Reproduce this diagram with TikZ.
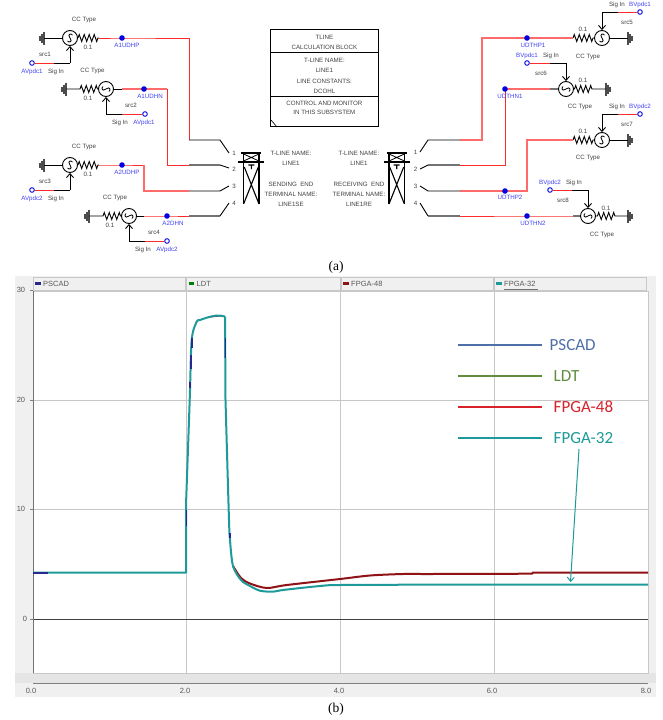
\documentclass[tikz,border=0pt]{standalone}
\usepackage{fontspec}
\setmainfont{Liberation Sans}
\newfontfamily\legendfont{Carlito}
\newfontfamily\capfont{Liberation Serif}
\usetikzlibrary{arrows.meta,decorations.pathmorphing}
\definecolor{wirered}{HTML}{FF2A2A}
\definecolor{palered}{HTML}{FF6A6A}
\definecolor{labelblue}{HTML}{4040F0}
\definecolor{dotblue}{HTML}{0000E0}
\definecolor{textgray}{HTML}{404040}
\definecolor{bandgray}{HTML}{F0F0F0}
\definecolor{gridgray}{HTML}{C8C8C8}
\definecolor{curveteal}{HTML}{1F9A9A}
\definecolor{curvered}{HTML}{8E1216}
\definecolor{curveblue}{HTML}{28288E}
\tikzset{
    wire/.style={black, line width=0.9pt},
    redwire/.style={wirered, line width=1pt},
    palewire/.style={palered, line width=1.4pt},
    graywire/.style={black!55, line width=1.2pt},
    zz/.style n args={2}{wire, decorate, decoration={zigzag, segment length=5pt, amplitude=3.5pt, pre length=#1, post length=#2}},
    ccsrc/.style={circle, draw=black, line width=0.9pt, fill=white, inner sep=0pt, minimum size=15pt},
    junction/.style={circle, fill=dotblue, inner sep=0pt, minimum size=5.6pt},
    term/.style={circle, draw=dotblue, line width=0.9pt, fill=white, inner sep=0pt, minimum size=4.6pt},
    lbl/.style={font=\fontsize{6.2}{7}\selectfont, text=textgray, inner sep=0pt},
    bluelbl/.style={font=\fontsize{6.2}{7}\selectfont, text=labelblue, inner sep=0pt},
    chartlbl/.style={font=\fontsize{7.5}{8}\selectfont, text=black!65, inner sep=0pt},
    legendlbl/.style={font=\legendfont\fontsize{17}{19}\selectfont, anchor=west, inner sep=0pt},
    caplbl/.style={font=\capfont\fontsize{13.5}{15}\selectfont, inner sep=0pt},
    sine/.pic={\draw[black, line width=0.8pt] (2.5,-3) .. controls (1,-5) and (-3,-4) .. (0,0) .. controls (3,4) and (-1,5) .. (-2.5,3);},
    gnd/.pic={\draw[black!70, line width=1.1pt] (0,-6.5) -- (0,6.5) (-2,-4.5) -- (-2,4.5) (-4,-2.5) -- (-4,2.5);},
    tower/.pic={
        \draw[black, line width=1.4pt] (-10,0) -- (10,0) (-13,9) -- (13,9) (-7.7,0) -- (-7.7,51) (7.7,0) -- (7.7,51);
        \draw[black, line width=0.8pt] (-7.7,1) -- (7.7,8) (-7.7,8) -- (7.7,1);
        \draw[black, line width=1.1pt] (-3,12) -- (3,12) (0,12) -- (0,16) (-7,14) -- (7.7,51) (7,14) -- (-7.7,51);
    }
}
\begin{document}
\begin{tikzpicture}[x=1pt,y=-1pt]
    \useasboundingbox (0,0) rectangle (663,720);

    % Chart background
    \fill[bandgray] (15,276) rectangle (656,697);
    \fill[white] (33,292) rectangle (648,673);
    \fill[black!10] (15,673) rectangle (656,683);
    \draw[black!50, line width=1pt] (33,683.5) -- (648,683.5);
    \fill[white] (0,697) rectangle (663,720);

    % Legend tabs
    \foreach \n/\lft/\rgt/\col/\name in {1/33/185.5/curveblue/PSCAD, 2/186.5/340/green!50!black/LDT, 3/341/493/curvered/FPGA-48, 4/494/646.5/curveteal/FPGA-32}{
        \draw[gridgray, fill=black!6] (\lft,277) rectangle (\rgt,290);
        \fill[\col] (\lft+2,282) rectangle (\lft+7.5,285);
        \node[chartlbl, anchor=west] (tab\n) at (\lft+10,283.5) {\name};
    }
    \draw[black!55, line width=0.8pt] (504,289.5) -- (537.5,289.5);

    % Grid
    \foreach \x in {186,340.5,494}{
        \draw[gridgray, line width=0.9pt] (\x,291) -- (\x,673);
    }
    \foreach \y in {400,509}{
        \draw[black!22, line width=0.7pt] (33,\y) -- (648,\y);
    }
    \draw[gridgray, line width=0.9pt] (33,291.5) -- (648,291.5) -- (648,673) -- (33,673);
    \draw[black!75, line width=0.7pt] (33,619) -- (648,619);
    \draw[black!55, line width=1pt] (33,291) -- (33,673);

    % Axis numbers
    \foreach \n/\x/\y in {30/21/290, 20/21/400, 10/21/509, 0/25/619}{
        \node[chartlbl] (ylab\n) at (\x,\y) {\n};
        \draw[black!50] (30,\y) -- (33,\y);
    }
    \foreach \n/\x/\lab in {0/31/0.0, 2/185/2.0, 4/339/4.0, 6/492/6.0, 8/646/8.0}{
        \node[chartlbl] (xlab\n) at (\x,691) {\lab};
    }

    % Curves
    \draw[curvered, line width=2pt] plot[smooth, tension=0.5] coordinates {(233,566) (241,578) (250,583.5) (266.7,588) (286.7,585) (340,579) (370,575.5) (403,574) (430,574) (532,573.7)} -- (533,572.5) -- (648,572.5);
    \draw[curvered, line width=1.4pt] (208,317) -- (222,315.6);
    \draw[curveteal, line width=2pt, line join=round] (33,572.5) -- (186,572.5) -- (186,505)
        plot[smooth, tension=0.5] coordinates {(186,505) (189.7,400) (191.7,340) (196.7,321.7) (200,320) (206.7,317.7) (216.7,315.5) (225,316.5)};
    \draw[curveteal, line width=2pt, line join=round] (225,316.5) -- (225.5,400)
        plot[smooth, tension=0.5] coordinates {(225.5,400) (229,520) (230,540) (233,566) (241,580) (250,586) (260,590.7) (273,591.7) (283,590) (320,586) (340,585) (430,584.7) (648,584.7)};
    \draw[curveblue, line width=2pt] (33,572.5) -- (48,572.5);
    \draw[curveblue, line width=1.6pt] (186.3,510) -- (186.3,526) (189.7,382) -- (189.7,388) (191,355) -- (191,369) (191.7,338) -- (191.7,348) (225.3,338) -- (225.3,358) (229.8,533) -- (229.8,538);

    % Chart legend
    \foreach \n/\y/\col/\name/\gap in {1/345/4F6FA8/PSCAD/549.5, 2/376/5F8F3E/LDT/553.5, 3/407/D8222A/FPGA-48/553.5, 4/438/1F9A9A/FPGA-32/553.5}{
        \definecolor{legcol}{HTML}{\col}
        \coordinate (la\n) at (458,\y);
        \coordinate (lb\n) at (542,\y);
        \draw[legcol, line width=1.7pt] (la\n) -- (lb\n);
        \node[legendlbl, text=legcol] (leg\n) at (\gap,\y) {\name};
    }
    \coordinate (ptr) at (570.5,582);
    \draw[curveteal, line width=1pt, -{Straight Barb[length=4pt,width=7pt]}] (579,449) -- (ptr);

    % Sources
    \foreach \n/\sx/\sy/\r/\kx/\ky/\mx/\px in {1/70/38/0/70/63/54/32, 2/106/89/90/106/114/122/145, 3/70/165/0/70/190/54/32, 4/129/216/90/129/241/145/167, 5/602/38/0/602/12/618/640, 6/566/89/90/566/63/550/527, 7/602/140/0/602/114/618/640, 8/588/216/90/588/190/572/550}{
        \node[ccsrc] (src\n) at (\sx,\sy) {};
        \pic[rotate=\r] at (src\n) {sine};
        \coordinate (k\n) at (\kx,\ky);
        \coordinate (m\n) at (\mx,\ky);
        \node[term] (p\n) at (\px,\ky) {};
        \draw[redwire] (p\n) -- (m\n);
        \draw[wire] (m\n) -- (k\n);
        \draw[wire, -{Straight Barb[length=4pt,width=7pt]}] (k\n) -- (src\n);
    }

    % Grounds
    \foreach \n/\gx/\gy/\s in {1/44/38/1, 2/66/89/1, 3/44/165/1, 4/89/216/1, 5/628/38/-1, 6/606/89/-1, 7/628/140/-1, 8/628/216/-1}{
        \coordinate (g\n) at (\gx,\gy);
        \pic[xscale=\s] at (g\n) {gnd};
    }

    % Junction wire ends
    \foreach \n/\tx/\ty in {1/99/38, 2/122/89, 3/99/165, 4/144/216, 5/573/38, 6/550/89, 7/573/140, 8/573/216}{
        \coordinate (t\n) at (\tx,\ty);
    }
    \foreach \n/\ax/\ay/\bx/\by/\ex/\ey in {1/189/140/220/140/229/153, 2/189/165/220/165/229/168, 3/189/191/220/191/229/186, 4/189/216/220/216/229/203, 5/460/140/428/140/420/152, 6/460/165/428/165/420/169, 7/460/191/428/191/420/186, 8/460/216/428/216/420/203}{
        \coordinate (a\n) at (\ax,\ay);
        \coordinate (b\n) at (\bx,\by);
        \coordinate (e\n) at (\ex,\ey);
    }
    \coordinate (f2) at (167,165);
    \coordinate (f3) at (144,191);
    \coordinate (f5) at (482,140);
    \coordinate (f6) at (505,165);
    \coordinate (f7) at (527,191);
    \foreach \n/\dx/\dy in {1/122/38, 2/144/89, 3/122/165, 4/167/216, 5/527/38, 6/505/89, 7/505/191, 8/527/216}{
        \coordinate (dp\n) at (\dx,\dy);
    }

    % Resistors and short leads
    \draw[wire] (g1) -- (src1);
    \draw[zz={0pt}{0pt}] (src1) -- (t1);
    \draw[zz={14pt}{0pt}] (g2) -- (src2);
    \draw[wire] (src2) -- (t2);
    \draw[wire] (g3) -- (src3);
    \draw[zz={0pt}{0pt}] (src3) -- (t3);
    \draw[zz={14pt}{0pt}] (g4) -- (src4);
    \draw[wire] (src4) -- (t4);
    \draw[wire] (g5) -- (src5);
    \draw[zz={0pt}{0pt}] (t5) -- (src5);
    \draw[zz={0.5pt}{13pt}] (src6) -- (g6);
    \draw[graywire] (t6) -- (src6);
    \draw[wire] (g7) -- (src7);
    \draw[zz={0pt}{0pt}] (t7) -- (src7);
    \draw[zz={1.5pt}{12pt}] (src8) -- (g8);
    \draw[graywire] (t8) -- (src8);

    % Red feeders
    \draw[redwire] (t1) -- (dp1) -| (a1);
    \draw[palewire] (t2) -- (dp2) -- (dp2 -| f2);
    \draw[redwire] (dp2 -| f2) -- (f2) -- (a2);
    \draw[redwire] (t3) -- (dp3) -- (dp3 -| f3);
    \draw[palewire] (dp3 -| f3) -- (f3) -- (a3);
    \draw[redwire] (t4) -- (dp4) -- (a4);
    \draw[palewire] (t5) -- (dp5) -| (f5) -- (a5);
    \draw[palewire] (t6) -- (dp6);
    \draw[redwire] (dp6) -- (f6) -- (a6);
    \draw[palewire] (t7) -| (f7) -- (dp7) -- (a7);
    \draw[redwire] (t8) -- (dp8) -- (a8);

    % Junction dots
    \foreach \n in {1,...,8}{
        \node[junction] (d\n) at (dp\n) {};
    }

    % Terminal leads
    \foreach \n in {1,3,5,7}{
        \draw[wire] (a\n) -- (b\n) -- (e\n);
    }
    \foreach \n in {2,4,6,8}{
        \draw[graywire] (a\n) -- (b\n);
        \draw[wire] (b\n) -- (e\n);
    }

    % Towers
    \pic at (251.3,153) {tower};
    \pic at (396.7,153) {tower};

    % Calculation block
    \node[draw=black, line width=0.9pt, inner sep=0pt, minimum width=107.5pt, minimum height=97.5pt] (block) at (324.4,78) {};
    \coordinate (div1l) at (270.7,52.3);
    \coordinate (div1r) at (378,52.3);
    \coordinate (div2l) at (270.7,96.3);
    \coordinate (div2r) at (378,96.3);
    \draw[wire] (div1l) -- (div1r);
    \draw[wire] (div2l) -- (div2r);
    \draw[black, line width=0.6pt] (271,120) -- (277,127);

    % Gray labels
    \foreach \name/\x/\y [count=\i] in {CC Type/84/20, 0.1/88/47, src1/45/54, Sig In/56/72,
        CC Type/92.5/71, 0.1/88/98, src2/131/105, Sig In/120/123,
        CC Type/84/147, 0.1/88/174, src3/45/181, Sig In/56/199,
        CC Type/115/198, 0.1/110/225, src4/154/232, Sig In/143/250,
        Sig In/617/5, src5/627/22, 0.1/583/29, CC Type/588/57,
        Sig In/551/56, src6/541/73, 0.1/583/80, CC Type/580/107,
        Sig In/617/107, src7/627/124, 0.1/583/131, CC Type/588/158,
        Sig In/574/183, src8/563/200, 0.1/606/208, CC Type/602/235,
        TLINE/324.4/37, CALCULATION BLOCK/324.4/47, T-LINE NAME:/324.4/60.5, LINE1/324.4/70,
        LINE CONSTANTS:/324.4/81, DCOHL/324.4/91, CONTROL AND MONITOR/324.4/103, IN THIS SUBSYSTEM/324.4/112,
        T-LINE NAME:/291/153, LINE1/291/163, SENDING\ \ END/291/184, TERMINAL NAME:/291/194, LINE1SE/291/204,
        T-LINE NAME:/359/153, LINE1/359/163, RECEIVING\ \ END/359/184, TERMINAL NAME:/359/194, LINE1RE/359/204,
        1/234/153, 2/234/169, 3/234/186.7, 4/234/203.5, 1/415.7/152, 2/415.7/169, 3/415.7/186.7, 4/415.7/203.5}{
        \node[lbl] (lab\i) at (\x,\y) {\name};
    }

    % Blue labels
    \foreach \name/\x/\y [count=\i] in {A1UDHP/127/45, AVpdc1/32/72, A1UDHN/150/96, AVpdc1/144/123,
        A2UDHP/127/172, AVpdc2/32/199, A2DHN/173/223, AVpdc2/167/250,
        BVpdc1/640/5, UDTHP1/533/45, BVpdc1/527/56, UDTHN1/510/96,
        BVpdc2/640/107, UDTHP2/510/197, BVpdc2/550/183, UDTHN2/533/223}{
        \node[bluelbl] (net\i) at (\x,\y) {\name};
    }

    % Captions
    \node[caplbl] (capa) at (336,267) {(a)};
    \node[caplbl] (capb) at (336,709) {(b)};
\end{tikzpicture}
\end{document}
